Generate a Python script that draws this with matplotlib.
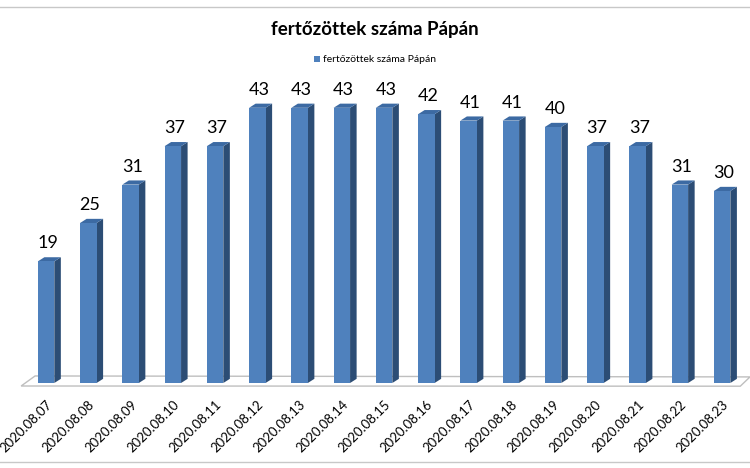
import matplotlib
matplotlib.use('Agg')
import matplotlib.pyplot as plt
from matplotlib.patches import Polygon
from matplotlib.lines import Line2D

plt.rcParams['font.family'] = ['Lato', 'DejaVu Sans']

# adatok
datumok = ['2020.08.07', '2020.08.08', '2020.08.09', '2020.08.10', '2020.08.11',
           '2020.08.12', '2020.08.13', '2020.08.14', '2020.08.15', '2020.08.16',
           '2020.08.17', '2020.08.18', '2020.08.19', '2020.08.20', '2020.08.21',
           '2020.08.22', '2020.08.23']
fertozottek = [19, 25, 31, 37, 37, 43, 43, 43, 43, 42, 41, 41, 40, 37, 37, 31, 30]
cim = 'fertőzöttek száma Pápán'

W, H = 750, 468
fig = plt.figure(figsize=(W / 100, H / 100), dpi=100)
fig.patch.set_facecolor('white')

# tengely: also szele az alap vonalán
alap = 85
ax = fig.add_axes([0, alap / H, 1, (H - alap) / H])
ax.set_xlim(-1.09, 16.66)
ax.set_ylim(0, (H - alap) / 6.4)
for s in ax.spines.values():
    s.set_visible(False)
ax.set_yticks([])

x = list(range(len(fertozottek)))
szel = 0.39
dx, dy = 0.155, 0.65   # 3D mélység

# padló
padlo = Polygon([(-0.59, -0.47), (16.43, -0.5), (16.66, 0.95), (-0.26, 1.1)],
                closed=True, facecolor='white', edgecolor='#BFBFBF', lw=1.0,
                clip_on=False, zorder=1)
ax.add_patch(padlo)

bars = ax.bar(x, fertozottek, width=szel, color='#4F81BD', zorder=3,
              label=cim)
for xi, v in zip(x, fertozottek):
    l, r = xi - szel / 2, xi + szel / 2
    oldal = Polygon([(r, 0), (r + dx, dy), (r + dx, v + dy), (r, v)],
                    closed=True, facecolor='#2C4D75', edgecolor='none', zorder=2)
    teto = Polygon([(l, v), (l + dx, v + dy), (r + dx, v + dy), (r, v)],
                   closed=True, facecolor='#3C6AA3', edgecolor='none', zorder=2)
    ax.add_patch(oldal)
    ax.add_patch(teto)
    ax.text(xi + 0.04, v + dy + 0.9, str(v), ha='center', va='bottom',
            fontsize=13, color='black')

ax.set_xticks(x)
ax.set_xticklabels(datumok, rotation=45, ha='right', rotation_mode='anchor',
                   fontsize=9.5)
ax.tick_params(axis='x', length=0, pad=11)

fig.text(0.5, 1 - 30 / H, cim, ha='center', va='center', fontsize=13.5,
         fontweight='bold')
fig.legend(handles=[bars], labels=[cim], loc='center',
           bbox_to_anchor=(0.5, 1 - 60 / H), frameon=False, fontsize=7.5,
           handlelength=0.6, handleheight=0.6, handletextpad=0.3)

# szürke keretvonalak
fig.add_artist(Line2D([0, 1], [1 - 7 / H, 1 - 7 / H], color='#C8C8C8', lw=1))
fig.add_artist(Line2D([0, 1], [1 - 462 / H, 1 - 462 / H], color='#C8C8C8', lw=1))

fig.savefig('out.png', dpi=100)
